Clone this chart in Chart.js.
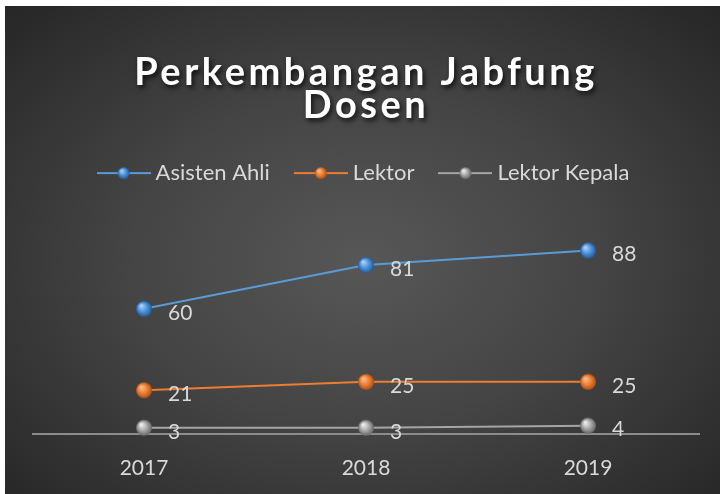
<!DOCTYPE html>
<html>
<head>
<meta charset="utf-8">
<script src="https://cdn.jsdelivr.net/npm/chart.js@4"></script>
<style>
  html, body { margin: 0; padding: 0; background: #fff; }
  #wrap {
    position: absolute; left: 5px; top: 6px; width: 715px; height: 488px;
    background: radial-gradient(ellipse farthest-corner at 50% 52%, #575757 0%, #454545 45%, #262626 100%);
  }
</style>
</head>
<body>
<div id="wrap"><canvas id="chart"></canvas></div>
<script>
const years = ['2017', '2018', '2019'];
const asistenAhli = [60, 81, 88];
const lektor = [21, 25, 25];
const lektorKepala = [3, 3, 4];
const seriesNames = ['Asisten Ahli', 'Lektor', 'Lektor Kepala'];
const lineColors = ['#5b9bd5', '#ed7d31', '#a5a5a5'];
const ballShades = [
  ['#a9cdf3', '#4a90d9', '#275b96'],
  ['#f9bb88', '#ed7d31', '#a9501a'],
  ['#ececec', '#a5a5a5', '#666666']
];

// little shaded spheres for the markers
function makeBall(shade, r) {
  const c = document.createElement('canvas');
  const s = r * 2 + 2;
  c.width = s; c.height = s;
  const g = c.getContext('2d');
  const grad = g.createRadialGradient(s / 2 - r * 0.35, s / 2 - r * 0.4, r * 0.1, s / 2, s / 2, r);
  grad.addColorStop(0, shade[0]);
  grad.addColorStop(0.55, shade[1]);
  grad.addColorStop(1, shade[2]);
  g.fillStyle = grad;
  g.beginPath();
  g.arc(s / 2, s / 2, r, 0, Math.PI * 2);
  g.fill();
  return c;
}

function makeLegendIcon(color, shade) {
  const c = document.createElement('canvas');
  c.width = 54; c.height = 16;
  const g = c.getContext('2d');
  g.strokeStyle = color;
  g.lineWidth = 2;
  g.beginPath(); g.moveTo(0, 8); g.lineTo(54, 8); g.stroke();
  const b = makeBall(shade, 6);
  g.drawImage(b, 27 - b.width / 2, 8 - b.height / 2);
  return c;
}

const balls = ballShades.map(s => makeBall(s, 8));
const legendIcons = lineColors.map((c, i) => makeLegendIcon(c, ballShades[i]));

const titleStyle = {
  id: 'titleStyle',
  beforeDraw(chart) {
    const t = chart.titleBlock;
    if (t && !t._styled) {
      const orig = t.draw;
      t.draw = function (...args) {
        const ctx = this.ctx;
        ctx.save();
        ctx.letterSpacing = '3.5px';
        ctx.shadowColor = 'rgba(0,0,0,0.75)';
        ctx.shadowBlur = 5;
        ctx.shadowOffsetX = 2;
        ctx.shadowOffsetY = 3;
        orig.apply(this, args);
        ctx.restore();
      };
      t._styled = true;
    }
  }
};

const pointLabels = {
  id: 'pointLabels',
  afterDatasetsDraw(chart) {
    const ctx = chart.ctx;
    ctx.save();
    ctx.font = '21px Lato';
    ctx.fillStyle = '#d9d9d9';
    ctx.textAlign = 'left';
    ctx.textBaseline = 'middle';
    chart.data.datasets.forEach((ds, i) => {
      chart.getDatasetMeta(i).data.forEach((pt, j) => {
        ctx.fillText(ds.data[j], pt.x + 24, pt.y + 4);
      });
    });
    ctx.restore();
  }
};

const allSeries = [asistenAhli, lektor, lektorKepala];

new Chart(document.getElementById('chart'), {
  type: 'line',
  data: {
    labels: years,
    datasets: allSeries.map((vals, i) => ({
      label: seriesNames[i],
      data: vals,
      borderColor: lineColors[i],
      backgroundColor: lineColors[i],
      borderWidth: 2,
      pointStyle: balls[i],
      pointRadius: 8,
      clip: false,
      tension: 0
    }))
  },
  options: {
    responsive: true,
    maintainAspectRatio: false,
    animation: false,
    events: [],
    layout: { padding: { left: 28, right: 21, top: 0, bottom: 0 } },
    plugins: {
      tooltip: { enabled: false },
      title: {
        display: true,
        text: ['Perkembangan Jabfung', 'Dosen'],
        color: '#ffffff',
        font: { family: 'Lato', size: 38, weight: 'bold', lineHeight: 0.87 },
        padding: { top: 50, bottom: 10 }
      },
      legend: {
        position: 'top',
        labels: {
          color: '#d9d9d9',
          font: { family: 'Lato', size: 22 },
          usePointStyle: true,
          pointStyleWidth: 42,
          padding: 30,
          generateLabels(chart) {
            const items = Chart.defaults.plugins.legend.labels.generateLabels(chart);
            items.forEach((it, i) => { it.pointStyle = legendIcons[i]; });
            return items;
          }
        }
      }
    },
    scales: {
      x: {
        offset: true,
        grid: { display: false, drawTicks: false },
        border: { color: '#8c8c8c', width: 2 },
        ticks: { color: '#d9d9d9', font: { family: 'Lato', size: 21 }, padding: 22 },
        afterFit(scale) { scale.height = 60; }
      },
      y: {
        display: false,
        min: 0,
        max: 115
      }
    }
  },
  plugins: [titleStyle, pointLabels]
});
</script>
</body>
</html>
